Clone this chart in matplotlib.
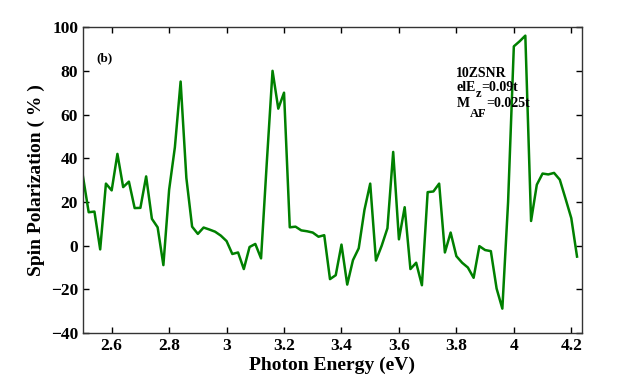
import numpy as np
import matplotlib.pyplot as plt

plt.rcParams['font.family'] = ['Liberation Serif', 'DejaVu Serif']
plt.rcParams['font.weight'] = 'bold'

# photon energy grid (eV) and spin polarization (%)
energy = np.round(np.arange(2.50, 4.2201, 0.02), 2)
polarization = [
    31.7, 15.3, 15.6, -1.7, 28.4, 25.3, 42.0, 26.8, 29.3, 17.2,
    17.3, 31.7, 12.3, 8.4, -8.9, 25.6, 45.0, 75.1, 31.0, 8.7,
    5.4, 8.3, 7.4, 6.4, 4.6, 2.1, -3.8, -3.1, -10.7, -0.6,
    0.8, -5.8, 38.0, 80.0, 62.7, 70.0, 8.4, 8.7, 7.0, 6.6,
    6.0, 4.1, 4.8, -15.3, -13.5, 0.5, -17.8, -6.6, -1.2, 16.4,
    28.4, -6.8, 0.0, 8.0, 42.9, 2.9, 17.6, -10.7, -7.8, -18.1,
    24.5, 24.8, 28.4, -3.1, 6.0, -4.8, -7.8, -10.0, -14.7, -0.2,
    -2.0, -2.5, -19.6, -28.8, 20.0, 91.2, 93.5, 96.1, 11.3, 27.9,
    33.0, 32.6, 33.3, 30.2, 21.5, 12.6, -5.0,
]

xticks = [2.6, 2.8, 3.0, 3.2, 3.4, 3.6, 3.8, 4.0, 4.2]
xticklabels = ['2.6', '2.8', '3', '3.2', '3.4', '3.6', '3.8', '4', '4.2']
yticks = [-40, -20, 0, 20, 40, 60, 80, 100]

fig = plt.figure(figsize=(6.43, 3.82), dpi=100)
ax = fig.add_axes([0.129, 0.128, 0.776, 0.801])
ax.plot(energy[:len(polarization)], polarization, color='#008000', lw=1.8)

ax.set_xlim(2.5, 4.237)
ax.set_ylim(-40, 100)
ax.set_xticks(xticks)
ax.set_xticklabels(xticklabels)
ax.set_yticks(yticks)
ax.tick_params(direction='in', top=True, right=True, labelsize=12.5, length=4, width=1)
for lab in ax.get_xticklabels() + ax.get_yticklabels():
    lab.set_fontweight('bold')
for s in ax.spines.values():
    s.set_linewidth(1)
    s.set_color('#333333')

ax.set_xlabel('Photon Energy (eV)', fontsize=14, fontweight='bold', labelpad=2)
ax.set_ylabel('Spin Polarization ( % )', fontsize=14, fontweight='bold', labelpad=4)

ax.text(0.026, 0.899, '(b)', transform=ax.transAxes, fontsize=9.5, fontweight='bold', va='center')

# parameter box, subscripts dropped by hand
fs = 10
ax.text(3.80, 77.3, '10ZSNR', fontsize=fs, fontweight='bold', va='baseline')
t1 = ax.text(3.80, 70.9, 'elE', fontsize=fs, fontweight='bold', va='baseline')
t2 = ax.annotate('z', xy=(1, 0), xycoords=t1, xytext=(0, -4.5), textcoords='offset points',
                 fontsize=9, fontweight='bold', va='bottom')
ax.annotate('=0.09t', xy=(1, 0), xycoords=t2, xytext=(0, 4.5), textcoords='offset points',
            fontsize=fs, fontweight='bold', va='bottom')
t3 = ax.text(3.80, 63.5, 'M', fontsize=fs, fontweight='bold', va='baseline')
t4 = ax.annotate('AF', xy=(1, 0), xycoords=t3, xytext=(0, -7), textcoords='offset points',
                 fontsize=9, fontweight='bold', va='bottom')
ax.annotate('=0.025t', xy=(1, 0), xycoords=t4, xytext=(0, 7), textcoords='offset points',
            fontsize=fs, fontweight='bold', va='bottom')

fig.savefig('out.png', dpi=100)
